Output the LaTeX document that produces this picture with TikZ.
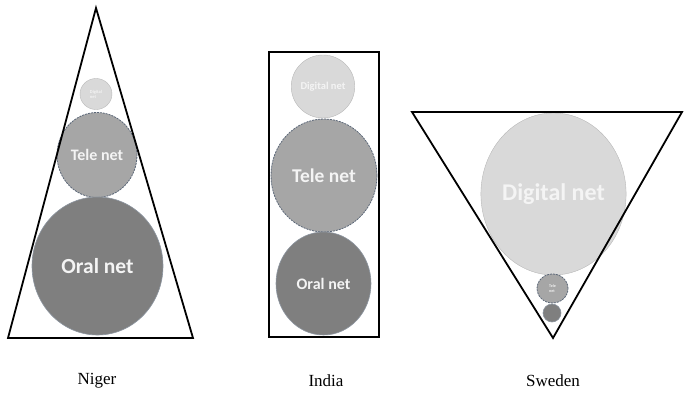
\documentclass[tikz,border=0pt]{standalone}
\usepackage{fontspec}
\setmainfont{Liberation Serif}
\newfontfamily\calib{Carlito}
\usetikzlibrary{shapes.geometric}
\definecolor{digc}{HTML}{D9D9D9}
\definecolor{telec}{HTML}{A6A6A6}
\definecolor{oralc}{HTML}{7F7F7F}
\definecolor{rimc}{HTML}{5B6778}
\definecolor{txtc}{HTML}{F4F4F4}
\tikzset{
  net/.style={ellipse, inner sep=0pt, text=txtc, font=\calib\bfseries, align=center},
  digital/.style={net, fill=digc, draw=digc!85!black, line width=0.4pt},
  tele/.style={net, fill=telec, draw=rimc, line width=0.8pt, dash pattern=on 2pt off 1pt},
  oral/.style={net, fill=oralc, draw=rimc!70, line width=0.6pt},
  frame/.style={draw=black, line width=1.8pt, line join=miter},
  country/.style={font=\fontsize{17}{20}\selectfont, text=black}
}
\begin{document}
\begin{tikzpicture}[x=1pt,y=-1pt]
\useasboundingbox (0,0) rectangle (686,396);
% Niger
\node[digital, minimum width=32pt, minimum height=31pt, font=\calib\bfseries\fontsize{4.5}{5}\selectfont, align=left] (nd) at (96,94) {Digital\\net};
\node[tele, minimum width=80pt, minimum height=85pt, font=\calib\bfseries\fontsize{16}{18}\selectfont] (nt) at (97,155) {Tele net};
\node[oral, minimum width=131pt, minimum height=138pt, font=\calib\bfseries\fontsize{21.5}{24}\selectfont] (no) at (97.5,266) {Oral net};
\coordinate (na) at (96,8);
\coordinate (nl) at (8,338);
\coordinate (nr) at (193,338);
\draw[frame] (na) -- (nl) -- (nr) -- cycle;
\node[country] (nlab) at (97,381) {Niger};
% India
\node[digital, minimum width=62pt, minimum height=63pt, font=\calib\bfseries\fontsize{10.5}{12}\selectfont] (id) at (323,86.5) {Digital net};
\node[tele, minimum width=106pt, minimum height=113pt, font=\calib\bfseries\fontsize{19.5}{22}\selectfont] (it) at (324,175.5) {Tele net};
\node[oral, minimum width=95pt, minimum height=103pt, font=\calib\bfseries\fontsize{16}{18}\selectfont] (io) at (323.5,283.5) {Oral net};
\coordinate (ia) at (269,52);
\coordinate (ib) at (379,337);
\draw[frame] (ia) rectangle (ib);
\node[country] (ilab) at (326,381) {India};
% Sweden
\node[digital, minimum width=145pt, minimum height=162pt, font=\calib\bfseries\fontsize{24}{27}\selectfont] (sd) at (553.5,194) {Digital net};
\node[tele, minimum width=31pt, minimum height=29pt, font=\calib\bfseries\fontsize{4}{4.5}\selectfont, align=left] (st) at (552.5,288.5) {Tele\\net};
\node[oral, minimum width=18pt, minimum height=18pt] (so) at (552,313) {};
\coordinate (sl) at (412,112);
\coordinate (sr) at (682,112);
\coordinate (sa) at (553,338);
\draw[frame] (sl) -- (sr) -- (sa) -- cycle;
\node[country] (slab) at (553,381) {Sweden};
\end{tikzpicture}
\end{document}
